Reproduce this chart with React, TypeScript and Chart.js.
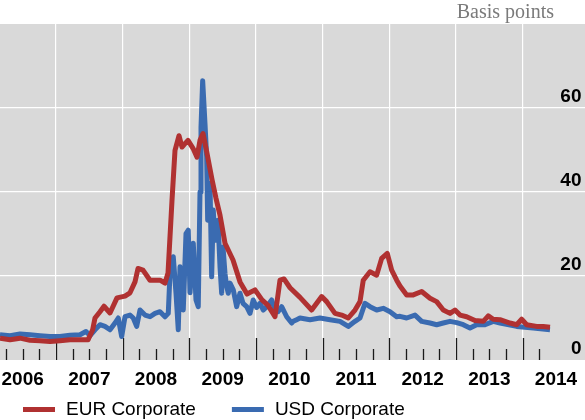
import React, { useEffect, useRef } from 'react';
import { Chart, registerables } from 'chart.js';

Chart.register(...registerables);

// ---- Data ----
const yearLabels = ['2006', '2007', '2008', '2009', '2010', '2011', '2012', '2013', '2014'];
const yTickValues = [0, 20, 40, 60];
const seriesNames = ['EUR Corporate', 'USD Corporate'];
const axisTitle = 'Basis points';

const eurDates = [
  2006.16, 2006.31, 2006.46, 2006.61, 2006.76, 2006.91, 2007.06, 2007.21, 2007.36, 2007.48,
  2007.55, 2007.585, 2007.66, 2007.72, 2007.81, 2007.915, 2008.035, 2008.11, 2008.185, 2008.23,
  2008.305, 2008.41, 2008.56, 2008.635, 2008.68, 2008.74, 2008.785, 2008.845, 2008.89, 2008.935,
  2008.98, 2009.055, 2009.115, 2009.16, 2009.205, 2009.265, 2009.34, 2009.4, 2009.46, 2009.535,
  2009.655, 2009.76, 2009.865, 2009.985, 2010.09, 2010.18, 2010.285, 2010.36, 2010.42, 2010.51,
  2010.66, 2010.835, 2010.985, 2011.06, 2011.185, 2011.285, 2011.384, 2011.485, 2011.56, 2011.609,
  2011.71, 2011.81, 2011.885, 2011.969, 2012.035, 2012.11, 2012.16, 2012.26, 2012.359, 2012.485,
  2012.61, 2012.71, 2012.809, 2012.91, 2012.985, 2013.06, 2013.16, 2013.285, 2013.409, 2013.484,
  2013.559, 2013.66, 2013.81, 2013.91, 2013.985, 2014.06, 2014.21, 2014.309, 2014.41,
];
const eurValues = [
  5.2, 4.8, 5.2, 4.7, 4.6, 4.4, 4.6, 4.8, 4.8, 4.8,
  7.2, 10.0, 11.5, 12.8, 11.2, 14.8, 15.2, 16.0, 18.6, 21.8,
  21.4, 19.0, 19.0, 18.3, 20.7, 38.0, 49.9, 53.4, 50.7, 51.5,
  52.3, 50.4, 48.3, 52.3, 53.9, 49.2, 43.0, 38.5, 34.5, 27.8,
  23.8, 18.6, 15.7, 16.7, 14.3, 13.0, 10.3, 19.0, 19.3, 17.2,
  14.9, 11.9, 15.1, 13.9, 11.1, 10.7, 10.0, 11.9, 13.9, 19.0,
  21.0, 20.2, 24.2, 25.4, 21.4, 19.0, 17.6, 15.5, 15.5, 16.3,
  14.7, 13.9, 11.9, 11.1, 11.9, 10.7, 10.3, 9.4, 9.2, 10.5,
  9.7, 9.6, 8.8, 8.4, 9.7, 8.4, 8.0, 8.0, 7.8,
];

const usdDates = [
  2006.16, 2006.31, 2006.46, 2006.61, 2006.76, 2006.91, 2007.06, 2007.21, 2007.36, 2007.45,
  2007.51, 2007.585, 2007.66, 2007.735, 2007.81, 2007.885, 2007.934, 2007.985, 2008.035, 2008.11,
  2008.159, 2008.21, 2008.26, 2008.335, 2008.41, 2008.485, 2008.56, 2008.635, 2008.684, 2008.71,
  2008.759, 2008.8, 2008.834, 2008.86, 2008.909, 2008.95, 2008.984, 2009.01, 2009.059, 2009.1,
  2009.134, 2009.16, 2009.175, 2009.2, 2009.235, 2009.26, 2009.275, 2009.31, 2009.335, 2009.359,
  2009.385, 2009.41, 2009.43, 2009.46, 2009.485, 2009.505, 2009.535, 2009.56, 2009.584, 2009.61,
  2009.659, 2009.71, 2009.76, 2009.805, 2009.86, 2009.91, 2009.959, 2010.01, 2010.06, 2010.11,
  2010.16, 2010.235, 2010.285, 2010.33, 2010.385, 2010.46, 2010.535, 2010.559, 2010.61, 2010.66,
  2010.81, 2010.96, 2011.11, 2011.26, 2011.384, 2011.485, 2011.56, 2011.635, 2011.71, 2011.81,
  2011.909, 2012.01, 2012.11, 2012.16, 2012.26, 2012.385, 2012.485, 2012.61, 2012.71, 2012.809,
  2012.91, 2013.01, 2013.109, 2013.21, 2013.31, 2013.435, 2013.559, 2013.66, 2013.91, 2014.159,
  2014.41,
];
const usdValues = [
  6.0, 5.8, 6.2, 6.0, 5.8, 5.6, 5.6, 5.9, 6.0, 6.8,
  5.8, 7.2, 8.4, 8.0, 7.2, 8.8, 10.0, 5.6, 10.3, 10.7,
  10.0, 8.0, 11.9, 10.7, 10.3, 11.1, 11.5, 10.3, 11.1, 20.6,
  24.6, 15.9, 7.2, 22.2, 11.9, 30.1, 30.9, 16.0, 27.8, 14.3,
  12.7, 40.0, 55.4, 66.5, 56.2, 48.3, 33.3, 42.0, 19.8, 35.7,
  28.5, 30.1, 33.3, 22.2, 15.9, 26.9, 20.6, 17.5, 15.9, 18.3,
  16.7, 12.7, 15.9, 13.5, 12.7, 11.1, 14.3, 12.5, 13.5, 11.9,
  12.7, 14.3, 11.9, 11.5, 12.7, 10.3, 8.8, 9.2, 9.6, 10.0,
  9.6, 10.0, 9.6, 9.2, 8.0, 9.2, 10.0, 13.5, 12.7, 11.9,
  12.3, 11.5, 10.3, 10.4, 10.0, 10.7, 9.2, 8.8, 8.4, 8.8,
  9.2, 8.9, 8.4, 7.6, 8.4, 8.4, 9.2, 8.8, 8.0, 7.6,
  7.2,
];

const EUR_COLOR = '#b03131';
const USD_COLOR = '#3a6bb1';
const PLOT_BG = '#d9d9d9';

const SANS = '"Liberation Sans", Arial, Helvetica, sans-serif';
const SERIF = '"Liberation Serif", "Times New Roman", serif';

export default function App() {
  const canvasRef = useRef<HTMLCanvasElement | null>(null);

  useEffect(() => {
    document.body.style.margin = '0';
    const canvas = canvasRef.current;
    if (!canvas) return;

    const firstYear = Number(yearLabels[0]);
    const lastYear = Number(yearLabels[yearLabels.length - 1]);
    const xMin = eurDates[0];
    const xMax = 2014.935;
    const lastDataDate = Math.max(eurDates[eurDates.length - 1], usdDates[usdDates.length - 1]);

    const quarterTicks: number[] = [];
    for (let y = firstYear; y <= lastYear + 1; y++) {
      for (let q = 0; q < 4; q++) {
        const v = y + q / 4;
        if (v >= xMin && v <= xMax) quarterTicks.push(v);
      }
    }
    const isWhole = (v: number) => Math.abs(v - Math.round(v)) < 1e-6;
    const isMid = (v: number) => Math.abs(v - Math.floor(v) - 0.5) < 1e-6;

    const bgPlugin = {
      id: 'plotBg',
      beforeDraw(chart: any) {
        const { ctx, chartArea } = chart;
        ctx.save();
        ctx.fillStyle = PLOT_BG;
        ctx.fillRect(chartArea.left, chartArea.top, chartArea.right - chartArea.left, chartArea.bottom - chartArea.top);
        ctx.restore();
      },
    };

    const tickMarkPlugin = {
      id: 'innerTicks',
      beforeDatasetsDraw(chart: any) {
        const { ctx, chartArea } = chart;
        const xs = chart.scales.x;
        ctx.save();
        ctx.strokeStyle = '#1a1a1a';
        ctx.lineWidth = 1.3;
        quarterTicks
          .filter((v) => v <= lastDataDate)
          .forEach((v) => {
            const px = Math.round(xs.getPixelForValue(v)) + 0.5;
            const len = isWhole(v) ? 22 : 11;
            ctx.beginPath();
            ctx.moveTo(px, chartArea.bottom);
            ctx.lineTo(px, chartArea.bottom - len);
            ctx.stroke();
          });
        ctx.restore();
      },
    };

    const textPlugin = {
      id: 'titleAndLegend',
      afterDraw(chart: any) {
        const { ctx, chartArea } = chart;
        ctx.save();
        // unit label
        ctx.font = `20px ${SERIF}`;
        ctx.fillStyle = '#7a7a7a';
        ctx.textAlign = 'right';
        ctx.textBaseline = 'alphabetic';
        ctx.fillText(axisTitle, chartArea.right - 31, 17.5);
        // legend
        ctx.font = `19px ${SANS}`;
        ctx.textAlign = 'left';
        ctx.textBaseline = 'middle';
        let x = 23;
        const y = chartArea.bottom + 49.5;
        chart.data.datasets.forEach((ds: any) => {
          ctx.fillStyle = ds.borderColor;
          ctx.fillRect(x, y - 2.5, 32, 5);
          ctx.fillStyle = '#000';
          ctx.fillText(ds.label, x + 43, y);
          x += 43 + ctx.measureText(ds.label).width + 36;
        });
        ctx.restore();
      },
    };

    const chart = new Chart(canvas, {
      type: 'line',
      data: {
        datasets: [
          {
            label: seriesNames[0],
            data: eurDates.map((d, i) => ({ x: d, y: eurValues[i] })),
            borderColor: EUR_COLOR,
            backgroundColor: EUR_COLOR,
            borderWidth: 5,
            pointRadius: 0,
            tension: 0,
            borderJoinStyle: 'round',
          },
          {
            label: seriesNames[1],
            data: usdDates.map((d, i) => ({ x: d, y: usdValues[i] })),
            borderColor: USD_COLOR,
            backgroundColor: USD_COLOR,
            borderWidth: 5,
            pointRadius: 0,
            tension: 0,
            borderJoinStyle: 'round',
          },
        ],
      },
      options: {
        responsive: false,
        animation: false,
        events: [],
        layout: { padding: { top: 24, left: 0, right: 0, bottom: 0 } },
        plugins: {
          legend: { display: false },
          title: { display: false },
          tooltip: { enabled: false },
        },
        scales: {
          x: {
            type: 'linear',
            min: xMin,
            max: xMax,
            afterBuildTicks: (scale: any) => {
              scale.ticks = quarterTicks.map((v) => ({ value: v }));
            },
            afterFit: (scale: any) => {
              scale.height = 60;
              scale.paddingLeft = 0;
              scale.paddingRight = 0;
            },
            ticks: {
              autoSkip: false,
              maxRotation: 0,
              minRotation: 0,
              padding: 8,
              color: '#000',
              font: { family: SANS, size: 19, weight: 'bold' },
              callback: (value: any) => {
                const v = Number(value);
                if (!isMid(v)) return '';
                const label = String(Math.floor(v));
                return yearLabels.includes(label) ? label : '';
              },
            },
            grid: {
              drawTicks: false,
              lineWidth: 1.2,
              color: (ctx: any) => (ctx.tick && isWhole(ctx.tick.value) ? '#ffffff' : 'rgba(0,0,0,0)'),
            },
            border: { display: false },
          },
          y: {
            position: 'right',
            min: 0,
            max: 80,
            afterBuildTicks: (scale: any) => {
              scale.ticks = [...yTickValues, 80].map((v) => ({ value: v }));
            },
            afterFit: (scale: any) => {
              scale.width = 0;
            },
            ticks: {
              mirror: true,
              padding: -3.5,
              labelOffset: -11.5,
              color: '#000',
              font: { family: SANS, size: 19, weight: 'bold' },
              callback: (value: any) => (yTickValues.includes(Number(value)) ? String(value) : ''),
            },
            grid: {
              drawTicks: false,
              lineWidth: 1.2,
              color: (ctx: any) =>
                ctx.tick && ctx.tick.value > 0 && ctx.tick.value < 80 ? '#ffffff' : 'rgba(0,0,0,0)',
            },
            border: { display: false },
          },
        },
      } as any,
      plugins: [bgPlugin, tickMarkPlugin, textPlugin],
    });

    return () => {
      chart.destroy();
    };
  }, []);

  return (
    <div style={{ width: 585, height: 420 }}>
      <canvas ref={canvasRef} width={585} height={420} style={{ display: 'block' }} />
    </div>
  );
}
